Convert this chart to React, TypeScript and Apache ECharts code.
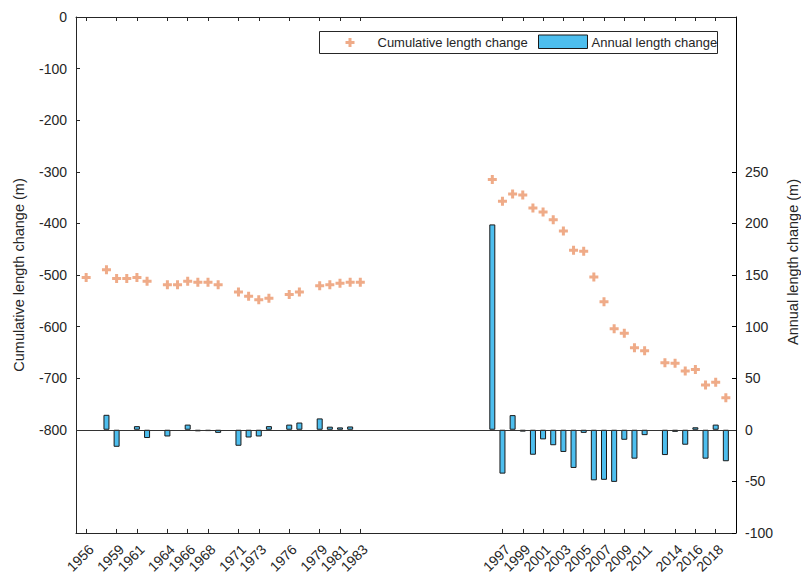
import { useEffect, useRef } from "react";
import * as echarts from "echarts";

// Cumulative front position (left axis, m)
const cumYears = [
  1956, 1958, 1959, 1960, 1961, 1962, 1964, 1965, 1966, 1967, 1968, 1969, 1971, 1972,
  1973, 1974, 1976, 1977, 1979, 1980, 1981, 1982, 1983, 1996, 1997, 1998, 1999, 2000,
  2001, 2002, 2003, 2004, 2005, 2006, 2007, 2008, 2009, 2010, 2011, 2013, 2014, 2015,
  2016, 2017, 2018, 2019,
];
const cumValues = [
  -505, -490, -507, -507, -505, -512, -519, -519, -512, -514, -514, -519, -533, -541,
  -548, -545, -538, -533, -521, -519, -516, -514, -514, -315, -357, -343, -345, -370,
  -378, -393, -415, -452, -454, -504, -552, -604, -613, -641, -647, -670, -671, -686,
  -683, -713, -708, -738,
];

// Annual change (right axis, m)
const annualYears = [
  1958, 1959, 1961, 1962, 1964, 1966, 1967, 1968, 1969, 1971, 1972, 1973, 1974, 1976,
  1977, 1979, 1980, 1981, 1982, 1996, 1997, 1998, 1999, 2000, 2001, 2002, 2003, 2004,
  2005, 2006, 2007, 2008, 2009, 2010, 2011, 2013, 2014, 2015, 2016, 2017, 2018, 2019,
];
const annualValues = [
  14.5, -16.5, 3.5, -8, -6.5, 5, -1.5, -1.3, -3, -15.5, -7.5, -6.5, 3.5, 5,
  7, 11, 3, 2.3, 3.2, 199, -42.5, 14.2, -1.8, -24.2, -9.3, -15, -21.5, -37,
  -3, -49, -48.5, -50.5, -9.7, -28, -5.2, -24.5, -2, -14.5, 2.4, -28, 5, -30.5,
];

const tickYears = [
  1956, 1959, 1961, 1964, 1966, 1968, 1971, 1973, 1976, 1979, 1981, 1983,
  1997, 1999, 2001, 2003, 2005, 2007, 2009, 2011, 2014, 2016, 2018,
];
const leftTicks = [0, -100, -200, -300, -400, -500, -600, -700, -800];
const rightTicks = [-100, -50, 0, 50, 100, 150, 200, 250];

const FONT = "'Liberation Sans', Arial, Helvetica, sans-serif";
const AXIS = "#262626";
const BAR = "#4DBEEE";
const MARK = "#EFAB88";
const PLUS = "path://M3,0H6V3H9V6H6V9H3V6H0V3H3Z";

export default function App() {
  const ref = useRef<HTMLDivElement>(null);

  useEffect(() => {
    if (!ref.current) return;
    const chart = echarts.init(ref.current, null, { renderer: "svg" });

    const axisLine = { show: true, onZero: false, lineStyle: { color: AXIS, width: 1 } };
    const fmt = (v: number) => String(Math.round(v) === 0 ? 0 : Math.round(v));

    chart.setOption({
      animation: false,
      backgroundColor: "#ffffff",
      textStyle: { fontFamily: FONT },
      grid: { left: 76, right: 65, top: 17, bottom: 41, containLabel: false },
      xAxis: [
        {
          type: "value",
          min: 1955,
          max: 2020,
          position: "bottom",
          axisLine,
          splitLine: { show: false },
          axisTick: { show: true, inside: true, length: 4, lineStyle: { color: AXIS }, customValues: tickYears },
          axisLabel: {
            customValues: tickYears,
            rotate: 45,
            margin: 9,
            verticalAlign: "top",
            color: AXIS,
            fontSize: 14,
            fontFamily: FONT,
            formatter: fmt,
          },
        },
        {
          type: "value",
          min: 1955,
          max: 2020,
          position: "top",
          axisLine,
          splitLine: { show: false },
          axisTick: { show: true, inside: true, length: 4, lineStyle: { color: AXIS }, customValues: tickYears },
          axisLabel: { show: false },
        },
      ],
      yAxis: [
        {
          type: "value",
          min: -1000,
          max: 0,
          position: "left",
          axisLine,
          splitLine: { show: false },
          axisTick: { show: true, inside: true, length: 4, lineStyle: { color: AXIS }, customValues: leftTicks },
          axisLabel: { customValues: leftTicks, color: AXIS, fontSize: 14, fontFamily: FONT, margin: 9, formatter: fmt },
          name: "Cumulative length change (m)",
          nameLocation: "middle",
          nameRotate: 90,
          nameGap: 50,
          nameTextStyle: { color: AXIS, fontSize: 14.5, fontFamily: FONT },
        },
        {
          type: "value",
          min: -100,
          max: 400,
          position: "right",
          axisLine: { show: true, onZero: false, lineStyle: { color: "#000", width: 1 } },
          splitLine: { show: false },
          axisTick: { show: true, inside: true, length: 4, lineStyle: { color: "#000" }, customValues: rightTicks },
          axisLabel: { customValues: rightTicks, color: AXIS, fontSize: 14, fontFamily: FONT, margin: 9, formatter: fmt },
        },
      ],
      series: [
        {
          type: "bar",
          name: "Annual length change",
          xAxisIndex: 0,
          yAxisIndex: 1,
          barWidth: 6,
          data: annualYears.map((y, i) => [y, annualValues[i]]),
          itemStyle: { color: BAR, borderColor: "#1a1a1a", borderWidth: 1 },
          markLine: {
            silent: true,
            symbol: "none",
            label: { show: false },
            lineStyle: { color: "#333333", width: 1, type: "solid" },
            data: [{ yAxis: 0 }],
          },
          z: 2,
        },
        {
          type: "scatter",
          name: "Cumulative length change",
          xAxisIndex: 0,
          yAxisIndex: 0,
          symbol: PLUS,
          symbolSize: 9,
          data: cumYears.map((y, i) => [y, cumValues[i]]),
          itemStyle: { color: MARK, opacity: 1 },
          z: 3,
        },
      ],
      graphic: [
        // right-hand axis title
        {
          type: "text",
          x: 793,
          y: 262,
          rotation: Math.PI / 2,
          style: {
            text: "Annual length change (m)",
            fill: AXIS,
            font: `14.5px ${FONT}`,
            align: "center",
            verticalAlign: "middle",
          },
        },
        // legend box
        {
          type: "group",
          left: 319,
          top: 31,
          children: [
            {
              type: "rect",
              shape: { x: 0, y: 0, width: 398, height: 22 },
              style: { fill: "#ffffff", stroke: AXIS, lineWidth: 1 },
            },
            {
              type: "polygon",
              shape: {
                points: [
                  [29, 6.5], [32, 6.5], [32, 9.5], [35, 9.5], [35, 12.5], [32, 12.5], [32, 15.5],
                  [29, 15.5], [29, 12.5], [26, 12.5], [26, 9.5], [29, 9.5],
                ],
              },
              style: { fill: MARK },
            },
            {
              type: "text",
              x: 58,
              y: 11,
              style: { text: "Cumulative length change", fill: AXIS, font: `13px ${FONT}`, verticalAlign: "middle" },
            },
            {
              type: "rect",
              shape: { x: 219, y: 3.5, width: 49, height: 13.5 },
              style: { fill: BAR, stroke: "#1a1a1a", lineWidth: 1 },
            },
            {
              type: "text",
              x: 272,
              y: 11,
              style: { text: "Annual length change", fill: AXIS, font: `13px ${FONT}`, verticalAlign: "middle" },
            },
          ],
        },
      ],
    });

    return () => chart.dispose();
  }, []);

  return (
    <div
      ref={ref}
      style={{ position: "fixed", left: 0, top: 0, width: 801, height: 576, background: "#fff" }}
    />
  );
}
